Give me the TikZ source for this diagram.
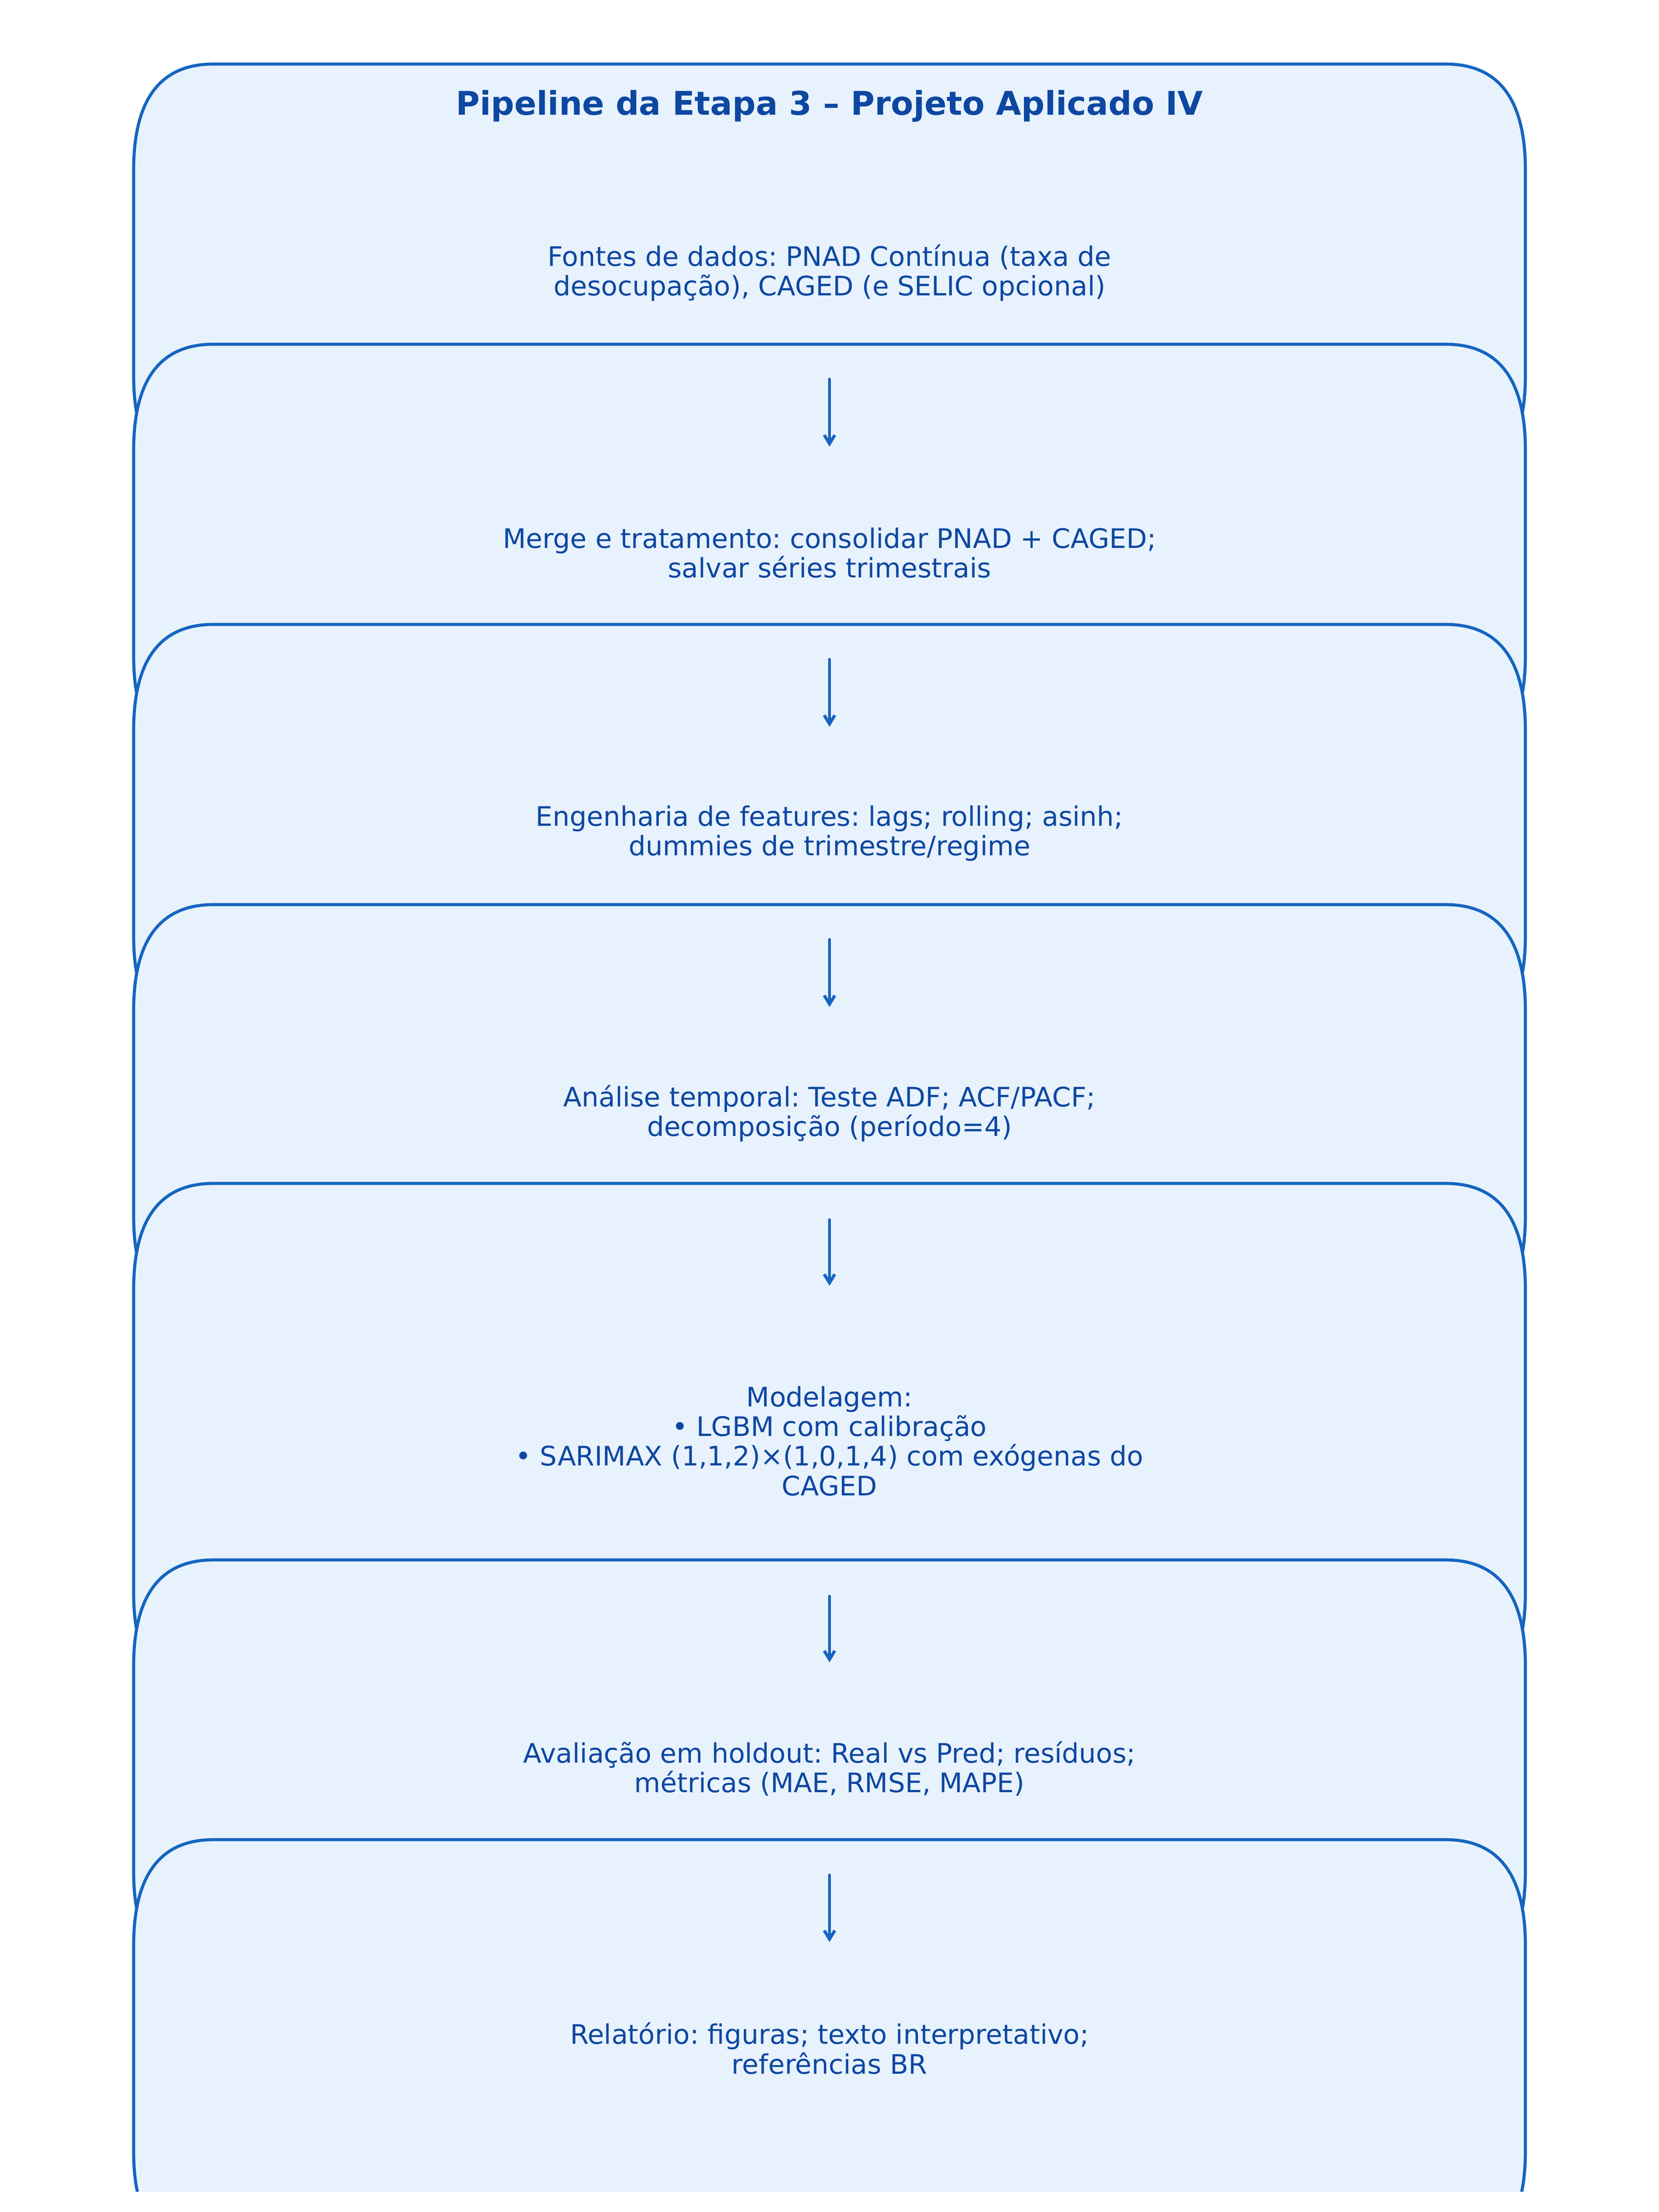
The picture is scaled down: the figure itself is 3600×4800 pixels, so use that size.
\documentclass[tikz,border=0pt]{standalone}
\usepackage{fontspec}
\setmainfont{DejaVu Sans}
\usetikzlibrary{arrows.meta}
\definecolor{stepfill}{HTML}{E8F2FD}
\definecolor{stepedge}{HTML}{1565C0}
\definecolor{steptext}{HTML}{0D47A1}
\frenchspacing

\begin{document}
\begin{tikzpicture}[x=0.24pt,y=-0.24pt,
    stagebox/.style={fill=stepfill,draw=stepedge,line width=1.6pt},
    stage/.style={text=steptext,font=\fontsize{14}{15.4}\selectfont,align=center,
      inner sep=0pt,minimum width=617pt,minimum height=110.4pt},
    flow/.style={draw=stepedge,line width=1.6pt,line cap=round,
      -{Straight Barb[length=4.5pt,width=5.5pt]}}]
  \useasboundingbox (0,0) rectangle (3600,4800);
  % rounded boxes, the last one is cut at the bottom
  \begin{scope}
    \clip (0,0) rectangle (3600,4755);
    \foreach \t/\b in {139/1045,747/1653,1355/2261,1963/2869,2568/3686,3385/4291,3992/4898}
      \draw[stagebox] (290,\t+230) .. controls (290,\t+76.7) and (347.7,\t) .. (463,\t)
        -- (3137,\t) .. controls (3252.3,\t) and (3310,\t+76.7) .. (3310,\t+230)
        -- (3310,\b-230) .. controls (3310,\b-76.7) and (3252.3,\b) .. (3137,\b)
        -- (463,\b) .. controls (347.7,\b) and (290,\b-76.7) .. (290,\b-230) -- cycle;
  \end{scope}

  \node[text=steptext,font=\bfseries\fontsize{17}{20.4}\selectfont] (title) at (1800,230) {Pipeline da Etapa 3 – Projeto Aplicado IV};

  \node[stage] (fontes) at (1800,592) {Fontes de dados: PNAD Contínua (taxa de\\desocupação), CAGED (e SELIC opcional)};
  \node[stage] (merge) at (1800,1200) {Merge e tratamento: consolidar PNAD + CAGED;\\salvar séries trimestrais};
  \node[stage] (features) at (1800,1808) {Engenharia de features: lags; rolling; asinh;\\dummies de trimestre/regime};
  \node[stage] (analise) at (1800,2416) {Análise temporal: Teste ADF; ACF/PACF;\\decomposição (período=4)};
  \node[stage,minimum height=161.3pt] (modelo) at (1800,3127) {Modelagem:\\• LGBM com calibração\\• SARIMAX (1,1,2)×(1,0,1,4) com exógenas do\\CAGED};
  \node[stage] (avaliacao) at (1800,3838) {Avaliação em holdout: Real vs Pred; resíduos;\\métricas (MAE, RMSE, MAPE)};
  \node[stage] (relatorio) at (1800,4445) {Relatório: figuras; texto interpretativo;\\referências BR};

  \draw[flow] (fontes) -- (merge);
  \draw[flow] (merge) -- (features);
  \draw[flow] (features) -- (analise);
  \draw[flow] (analise) -- (modelo);
  \draw[flow] (modelo) -- (avaliacao);
  \draw[flow] (avaliacao) -- (relatorio);
\end{tikzpicture}
\end{document}
